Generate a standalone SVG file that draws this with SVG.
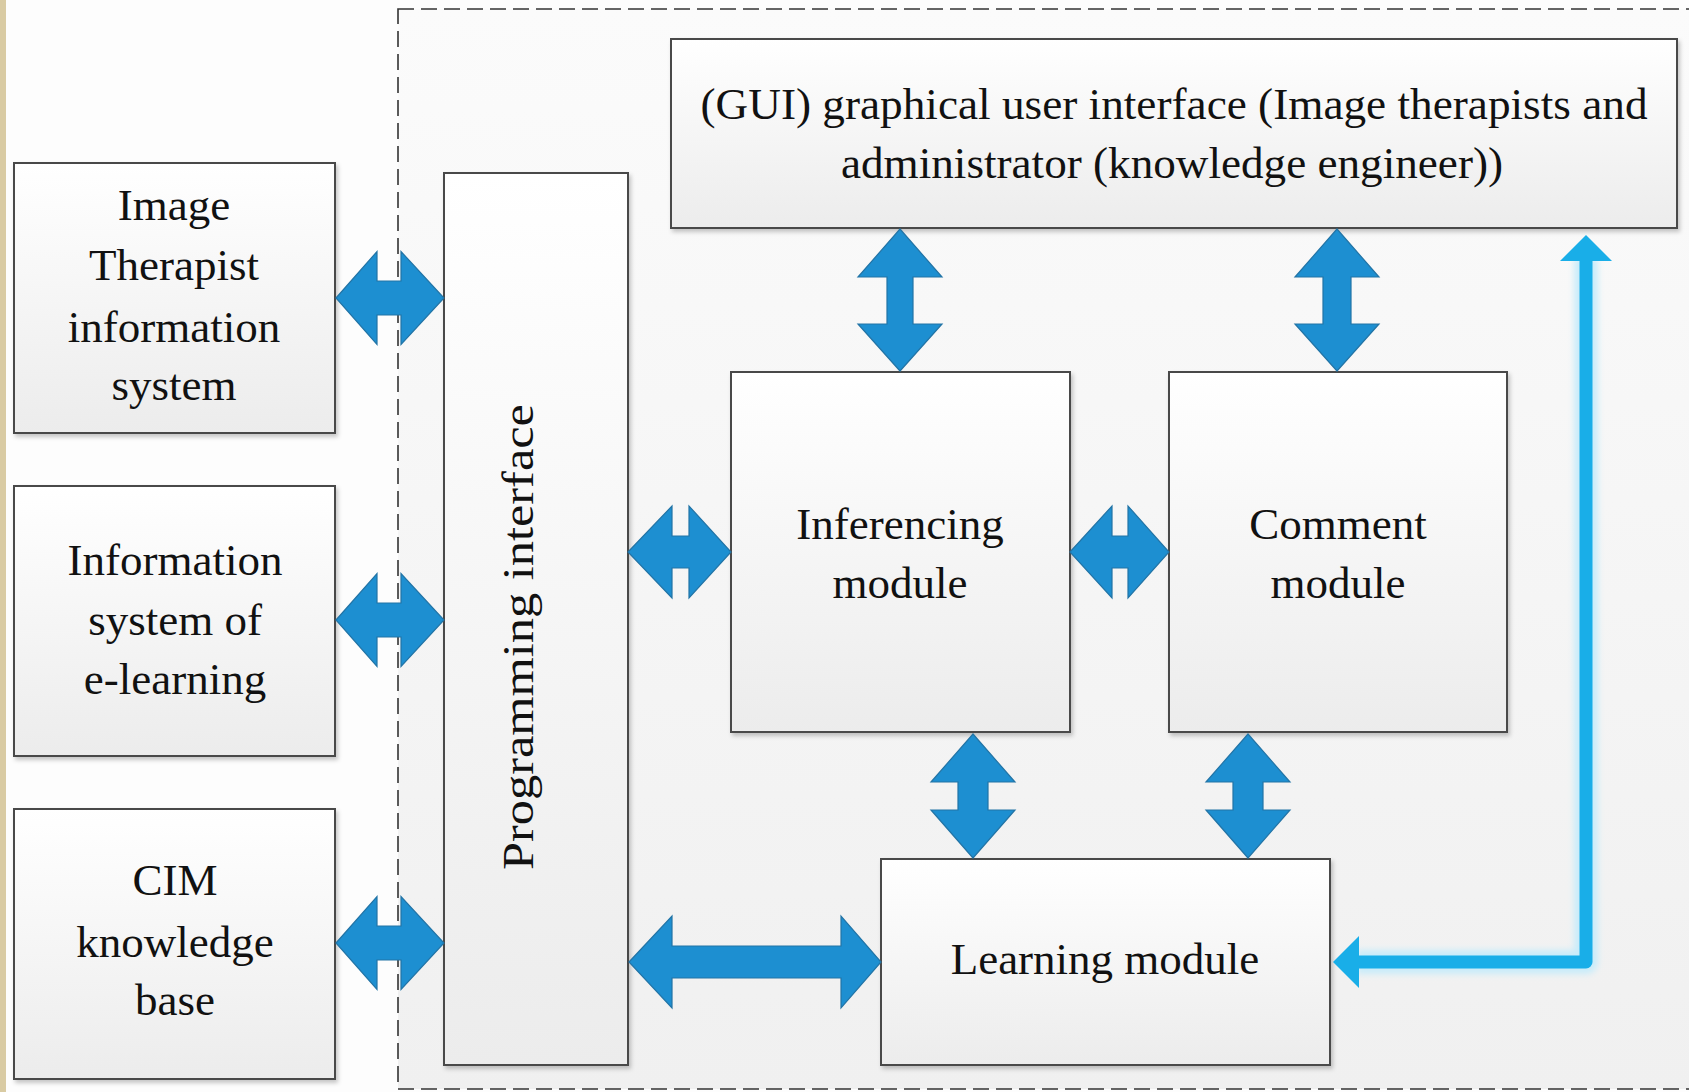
<svg xmlns="http://www.w3.org/2000/svg" width="1689" height="1092" viewBox="0 0 1689 1092">
  <defs>
    <linearGradient id="boxFill" x1="0" y1="0" x2="0" y2="1">
      <stop offset="0" stop-color="#ffffff"/>
      <stop offset="1" stop-color="#ececec"/>
    </linearGradient>
    <linearGradient id="areaFill" x1="0" y1="0" x2="0" y2="1">
      <stop offset="0" stop-color="#fbfbfb"/>
      <stop offset="1" stop-color="#f0f0f0"/>
    </linearGradient>
    <filter id="shadow" x="-5%" y="-5%" width="115%" height="115%">
      <feDropShadow dx="2" dy="3" stdDeviation="2" flood-color="#000" flood-opacity="0.22"/>
    </filter>
    <filter id="glow" x="-10%" y="-10%" width="120%" height="120%">
      <feGaussianBlur stdDeviation="3"/>
    </filter>
  </defs>
  <style>
    .box { fill: url(#boxFill); stroke: #4a4a4a; stroke-width: 2; filter: url(#shadow); }
    .label { font-family: "Liberation Serif", "Times New Roman", serif; font-size: 45px; fill: #111; text-anchor: middle; }
    .block { fill: #1d8fd1; stroke: #2274a6; stroke-width: 1.2; stroke-linejoin: miter; }
    .feed { fill: none; stroke: #19aee8; stroke-width: 13; stroke-linejoin: round; }
    .feedHead { fill: #19aee8; }
    .halo { fill: none; stroke: #c8ecfa; stroke-width: 24; stroke-linejoin: round; filter: url(#glow); }
  </style>

  <!-- page background -->
  <rect x="0" y="0" width="1689" height="1092" fill="#fdfdfd"/>
  <rect x="0" y="0" width="6" height="1092" fill="#d9cba3"/>

  <!-- system boundary (dashed) -->
  <rect id="system-boundary" x="398" y="9" width="1400" height="1080" fill="url(#areaFill)" stroke="#333" stroke-width="1.6" stroke-dasharray="16 7"/>

  <!-- external systems -->
  <g id="image-therapist-is">
    <rect class="box" x="14" y="163" width="321" height="270"/>
    <text class="label" x="174" y="220">Image</text>
    <text class="label" x="174" y="280">Therapist</text>
    <text class="label" x="174" y="342">information</text>
    <text class="label" x="174" y="400">system</text>
  </g>
  <g id="elearning-is">
    <rect class="box" x="14" y="486" width="321" height="270"/>
    <text class="label" x="175" y="575">Information</text>
    <text class="label" x="175" y="635">system of</text>
    <text class="label" x="175" y="694">e-learning</text>
  </g>
  <g id="cim-kb">
    <rect class="box" x="14" y="809" width="321" height="270"/>
    <text class="label" x="175" y="895">CIM</text>
    <text class="label" x="175" y="957">knowledge</text>
    <text class="label" x="175" y="1015">base</text>
  </g>

  <!-- internal modules -->
  <g id="programming-interface">
    <rect class="box" x="444" y="173" width="184" height="892"/>
    <text class="label" transform="translate(533,637) rotate(-90)" font-size="47" textLength="466" lengthAdjust="spacingAndGlyphs">Programming interface</text>
  </g>
  <g id="gui">
    <rect class="box" x="671" y="39" width="1006" height="189"/>
    <text class="label" x="1174" y="119" textLength="947" lengthAdjust="spacingAndGlyphs">(GUI) graphical user interface (Image therapists and</text>
    <text class="label" x="1172" y="178" textLength="662" lengthAdjust="spacingAndGlyphs">administrator (knowledge engineer))</text>
  </g>
  <g id="inferencing-module">
    <rect class="box" x="731" y="372" width="339" height="360"/>
    <text class="label" x="900" y="539">Inferencing</text>
    <text class="label" x="900" y="598">module</text>
  </g>
  <g id="comment-module">
    <rect class="box" x="1169" y="372" width="338" height="360"/>
    <text class="label" x="1338" y="539">Comment</text>
    <text class="label" x="1338" y="598">module</text>
  </g>
  <g id="learning-module">
    <rect class="box" x="881" y="859" width="449" height="206"/>
    <text class="label" x="1105" y="974">Learning module</text>
  </g>

  <!-- connectors -->
  <g id="connectors">
    <!-- horizontal double block arrows -->
    <path class="block" d="M336,298 L377,251.5 L377,281 L401,281 L401,251.5 L444,298 L401,344.5 L401,315 L377,315 L377,344.5 Z"/>
    <path class="block" d="M336,620 L377,573.5 L377,603 L401,603 L401,573.5 L444,620 L401,666.5 L401,637 L377,637 L377,666.5 Z"/>
    <path class="block" d="M336,943 L377,896.5 L377,926 L401,926 L401,896.5 L444,943 L401,989.5 L401,960 L377,960 L377,989.5 Z"/>
    <path class="block" d="M628,552 L672,506 L672,536 L689,536 L689,506 L731,552 L689,598 L689,568 L672,568 L672,598 Z"/>
    <path class="block" d="M1070,552 L1112,506 L1112,536 L1128,536 L1128,506 L1169,552 L1128,598 L1128,568 L1112,568 L1112,598 Z"/>
    <path class="block" d="M629,962 L672,916 L672,946 L841,946 L841,916 L881,962 L841,1008 L841,978 L672,978 L672,1008 Z"/>
    <!-- vertical double block arrows -->
    <path class="block" d="M900,229 L942,277 L913,277 L913,324 L942,324 L900,371 L858,324 L887,324 L887,277 L858,277 Z"/>
    <path class="block" d="M1337,229 L1379,277 L1351,277 L1351,324 L1379,324 L1337,371 L1295,324 L1323,324 L1323,277 L1295,277 Z"/>
    <path class="block" d="M973,734 L1015,782 L988,782 L988,810 L1015,810 L973,858 L931,810 L958,810 L958,782 L931,782 Z"/>
    <path class="block" d="M1248,734 L1290,782 L1263,782 L1263,810 L1290,810 L1248,858 L1206,810 L1233,810 L1233,782 L1206,782 Z"/>
    <!-- feedback line: learning module to GUI -->
    <polyline class="halo" points="1586,258 1586,962 1357,962"/>
    <polyline class="feed" points="1586,258 1586,962 1357,962"/>
    <polygon class="feedHead" points="1586,235 1612,261 1560,261"/>
    <polygon class="feedHead" points="1333,962 1359,936 1359,988"/>
  </g>
</svg>
